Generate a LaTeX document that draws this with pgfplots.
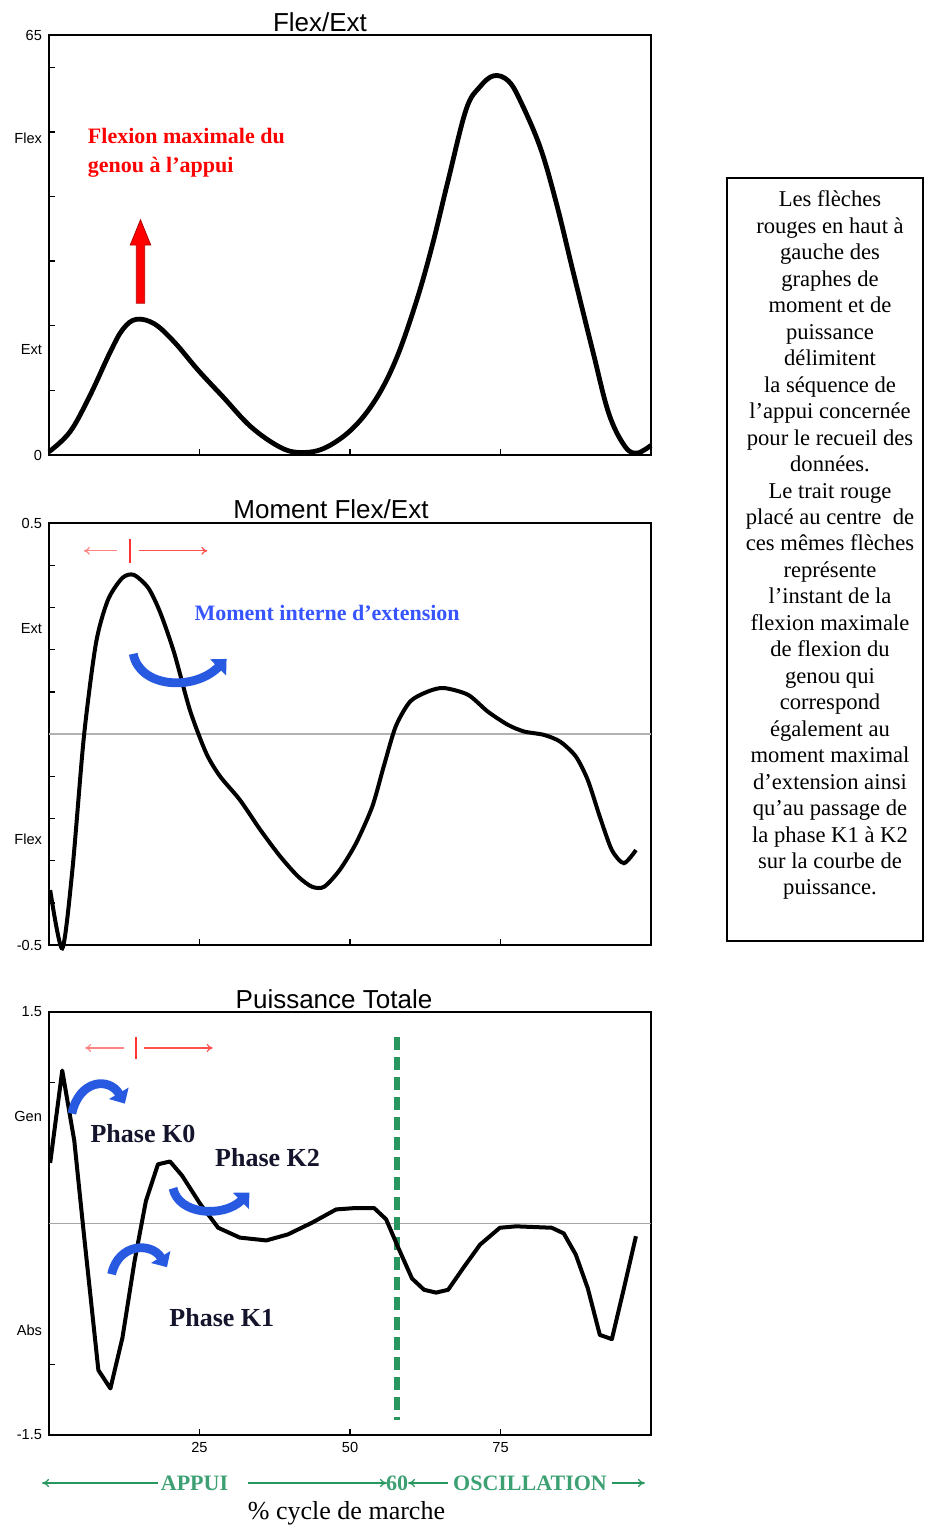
\documentclass[border=0pt]{standalone}
\usepackage{fontspec}
\setmainfont{Liberation Serif}
\setsansfont{Liberation Sans}
\usepackage{pgfplots}
\pgfplotsset{compat=1.18}
\usetikzlibrary{arrows.meta}
\definecolor{bluearr}{RGB}{40,90,225}
\definecolor{bluetxt}{RGB}{55,85,255}
\definecolor{greenl}{RGB}{40,150,95}
\definecolor{greent}{RGB}{60,160,115}
\definecolor{redl}{RGB}{255,80,80}
\definecolor{darktxt}{RGB}{20,20,45}

\tikzset{bluearrow/.style={draw=bluearr, line width=4.4pt, -{Triangle[width=11pt,length=6pt]}}}
\pgfplotsset{
  base/.style={
    scale only axis, width=301pt,
    xmin=0, xmax=100,
    axis line style={line width=0.9pt},
    tick style={line width=0.7pt, black},
    major tick length=3pt,
    xtick pos=lower, ytick pos=left, tick align=inside,
    xtick={25,50,75},
    tick label style={font=\sffamily\fontsize{7.3}{8}\selectfont},
    extra y tick style={major tick length=0pt},
    clip=false,
    anchor=north west,
  },
}

\begin{document}
\begin{tikzpicture}
\useasboundingbox (0,0) rectangle (462.5pt,-764pt);

% ---------------- Top chart ----------------
\begin{axis}[base, at={(24.5pt,-17.5pt)}, height=210pt, ymin=0, ymax=65,
  ytick={10,20,...,60}, yticklabels={}, xticklabels={},
  extra y ticks={0,16.3,49,65}, extra y tick labels={0,Ext,Flex,65}]
\addplot[black, line width=2.4pt, smooth, tension=0.6] coordinates {
(0,0.5) (3.5,3.6) (6.8,9.2) (10.2,16.0) (12.3,19.5) (14.5,21.0) (17.5,20.3)
(20.8,17.5) (24.8,13.1) (28.9,9.0) (33.5,4.4) (38.2,1.3) (41.5,0.4) (45.6,1.0)
(50.2,3.9) (54.2,8.5) (57.6,14.7) (60.9,23.4) (63.6,32.2) (66.3,42.5) (69.3,53.5)
(71.6,57.0) (73.9,58.7) (76.3,57.9) (78.3,54.8) (81.6,47.6) (84.3,38.9) (87,28.6)
(90.3,16.2) (93,6.4) (95.7,1.3) (97.7,0.3) (100,1.5)};
\draw[draw=red!70!black, fill=red, line width=0.4pt]
  (axis cs:14.5,23.5) -- (axis cs:14.5,32.5) -- (axis cs:13.5,32.5) -- (axis cs:15.2,36.4)
  -- (axis cs:16.9,32.5) -- (axis cs:15.9,32.5) -- (axis cs:15.9,23.5) -- cycle;
\node[anchor=west, align=left, text=red, font=\bfseries\fontsize{11}{14.5}\selectfont]
  at (axis cs:5.3,46.8) {Flexion maximale du\\genou à l’appui};
\end{axis}

% ---------------- Middle chart ----------------
\begin{axis}[base, at={(24.5pt,-261.5pt)}, height=211pt, ymin=-0.5, ymax=0.5,
  ytick={-0.4,-0.3,-0.2,-0.1,0.1,0.2,0.3,0.4}, yticklabels={}, xticklabels={},
  extra y ticks={-0.5,-0.25,0.25,0.5}, extra y tick labels={-0.5,Flex,Ext,0.5}]
\addplot[gray!60, line width=1pt] coordinates {(0,0) (100,0)};
\addplot[black, line width=2pt, smooth, tension=0.45] coordinates {
(0.2,-0.37) (2.2,-0.508) (3.9,-0.32) (5.8,-0.006) (7.8,0.215) (9.8,0.318)
(12.2,0.370) (14.1,0.377) (16.5,0.346) (18.5,0.287) (20.8,0.192) (23.4,0.057)
(26.1,-0.045) (28.4,-0.10) (31.7,-0.156) (35.1,-0.227) (38.4,-0.29) (41.4,-0.338)
(43.7,-0.362) (45.7,-0.362) (48.3,-0.322) (51,-0.259) (53.7,-0.172) (55.6,-0.077)
(57.6,0.018) (60,0.077) (63,0.101) (65.6,0.109) (69.6,0.093) (72.9,0.053)
(76.2,0.022) (78.9,0.006) (82.2,-0.002) (84.9,-0.018) (87.5,-0.053) (89.5,-0.109)
(91.5,-0.196) (93.5,-0.275) (95.5,-0.306) (97.5,-0.275)};
\draw[redl!70, line width=0.6pt, -{To[length=3pt,width=4pt]}] (axis cs:11.3,0.434) -- (axis cs:5.8,0.434);
\draw[redl, line width=0.6pt, -{To[length=3pt,width=4pt]}] (axis cs:15,0.434) -- (axis cs:26.3,0.434);
\draw[red!80, line width=1.1pt] (axis cs:13.5,0.462) -- (axis cs:13.5,0.405);
\node[anchor=west, text=bluetxt, font=\bfseries\fontsize{11}{13}\selectfont]
  at (axis cs:23.0,0.287) {Moment interne d’extension};
\draw[bluearrow] (axis cs:14.0,0.19) .. controls (axis cs:15,0.11) and (axis cs:24,0.10) .. (axis cs:29.5,0.178);
\end{axis}

% ---------------- Bottom chart ----------------
\begin{axis}[base, at={(24.5pt,-506pt)}, height=211.5pt, ymin=-1.5, ymax=1.5,
  ytick={-1,1}, yticklabels={}, xticklabels={25,50,75},
  extra y ticks={-1.5,-0.76,0.76,1.5}, extra y tick labels={-1.5,Abs,Gen,1.5}]
\addplot[gray!70, line width=0.8pt] coordinates {(0,0) (100,0)};
\addplot[greenl, line width=2.6pt, dash pattern=on 6.5pt off 3.5pt] coordinates {(57.8,1.32) (57.8,-1.39)};
\addplot[black, line width=2pt, line join=round] coordinates {
(0.2,0.43) (2.2,1.085) (4.2,0.587) (5.8,-0.077) (8.2,-1.04) (10.2,-1.17)
(12.2,-0.81) (14.2,-0.27) (16.1,0.16) (18.1,0.42) (20.1,0.44) (22.1,0.34)
(25.1,0.14) (28.1,-0.03) (31.7,-0.10) (36.1,-0.12) (39.7,-0.077) (43.7,0.006)
(47.7,0.10) (51,0.11) (54,0.11) (56,0.03) (58,-0.17) (60.3,-0.39) (62.3,-0.47)
(64.3,-0.49) (66.3,-0.47) (68.9,-0.31) (71.6,-0.15) (74.9,-0.03) (77.6,-0.02)
(83.5,-0.03) (85.5,-0.07) (87.5,-0.22) (89.5,-0.46) (91.5,-0.79) (93.5,-0.82)
(95.5,-0.46) (97.5,-0.09)};
\draw[redl!70, line width=0.6pt, -{To[length=3pt,width=4pt]}] (axis cs:12.5,1.245) -- (axis cs:6,1.245);
\draw[redl, line width=0.6pt, -{To[length=3pt,width=4pt]}] (axis cs:15.8,1.245) -- (axis cs:27.2,1.245);
\draw[red!80, line width=1.1pt] (axis cs:14.5,1.32) -- (axis cs:14.5,1.17);
\draw[bluearrow] (axis cs:3.8,0.78) .. controls (axis cs:5,1.02) and (axis cs:10,1.04) .. (axis cs:12.6,0.85);
\draw[bluearrow] (axis cs:10.4,-0.36) .. controls (axis cs:11.5,-0.14) and (axis cs:17,-0.13) .. (axis cs:19.6,-0.31);
\draw[bluearrow] (axis cs:20.6,0.25) .. controls (axis cs:21.5,0.06) and (axis cs:29,0.04) .. (axis cs:33.3,0.22);
\node[text=darktxt, font=\bfseries\fontsize{13}{15}\selectfont] at (axis cs:15.6,0.635) {Phase K0};
\node[text=darktxt, font=\bfseries\fontsize{13}{15}\selectfont] at (axis cs:36.3,0.47) {Phase K2};
\node[text=darktxt, font=\bfseries\fontsize{13}{15}\selectfont] at (axis cs:28.7,-0.67) {Phase K1};
\end{axis}

% ---------------- Titles ----------------
\node[font=\sffamily\fontsize{13}{15}\selectfont] at (160pt,-11pt) {Flex/Ext};
\node[font=\sffamily\fontsize{13}{15}\selectfont] at (165.5pt,-254.5pt) {Moment Flex/Ext};
\node[font=\sffamily\fontsize{13}{15}\selectfont] at (167pt,-499.5pt) {Puissance Totale};

% ---------------- Bottom legend line ----------------
\draw[greenl, line width=0.6pt, -{To[length=3.5pt,width=4pt]}] (79pt,-741.5pt) -- (21pt,-741.5pt);
\node[text=greent, font=\bfseries\fontsize{11}{12}\selectfont] at (97.25pt,-741.5pt) {APPUI};
\draw[greenl, line width=0.6pt, -{To[length=3.5pt,width=4pt]}] (124pt,-741.5pt) -- (193.5pt,-741.5pt);
\node[text=greent, font=\bfseries\fontsize{11}{12}\selectfont, inner sep=0pt] at (198.5pt,-741.5pt) {60};
\draw[greenl, line width=0.6pt, -{To[length=3.5pt,width=4pt]}] (224pt,-741.5pt) -- (204pt,-741.5pt);
\node[text=greent, font=\bfseries\fontsize{11}{12}\selectfont] at (265pt,-741.5pt) {OSCILLATION};
\draw[greenl, line width=0.6pt, -{To[length=3.5pt,width=4pt]}] (306pt,-741.5pt) -- (322.5pt,-741.5pt);
\node[font=\fontsize{13}{15}\selectfont] at (173.25pt,-756.5pt) {\% cycle de marche};

% ---------------- Text box ----------------
\draw[line width=0.75pt] (363.5pt,-89pt) rectangle (461.5pt,-470.5pt);
\node[anchor=north, align=center, font=\fontsize{11.3}{13.23}\selectfont] at (415pt,-92pt) {%
Les flèches\\rouges en haut à\\gauche des\\graphes de\\moment et de\\puissance\\délimitent\\%
la séquence de\\l'appui concernée\\pour le recueil des\\données.\\Le trait rouge\\%
placé au centre~ de\\ces mêmes flèches\\représente\\l'instant de la\\flexion maximale\\%
de flexion du\\genou qui\\correspond\\également au\\moment maximal\\d'extension ainsi\\%
qu'au passage de\\la phase K1 à K2\\sur la courbe de\\puissance.};
\end{tikzpicture}
\end{document}
